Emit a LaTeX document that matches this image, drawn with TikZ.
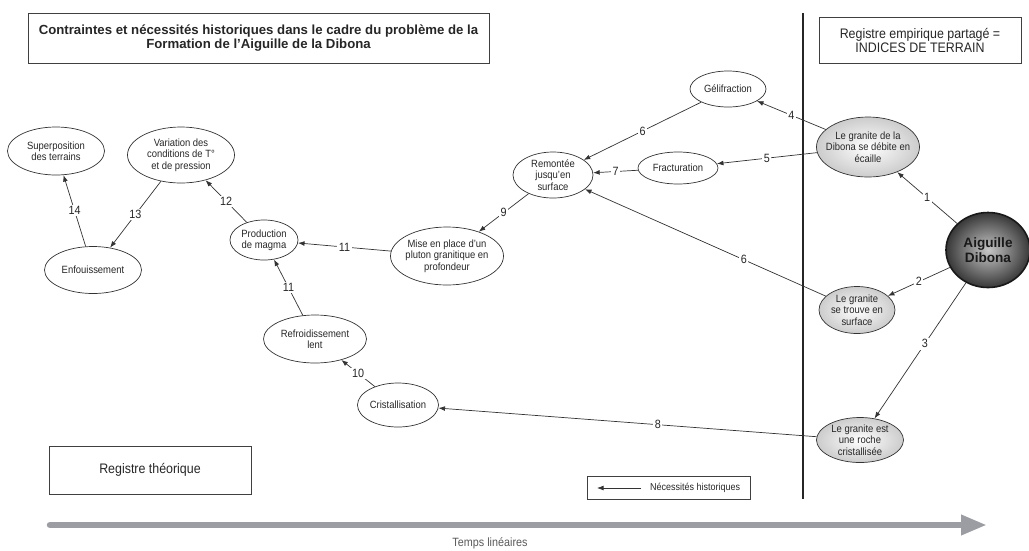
\documentclass[tikz,border=0pt]{standalone}
\usepackage{fontspec}
\setmainfont{Liberation Sans}
\newfontfamily\condfont[FakeStretch=0.9]{Liberation Sans}
\usetikzlibrary{shapes.geometric,arrows.meta}
\definecolor{timegray}{RGB}{155,157,162}
\begin{document}
\begin{tikzpicture}[x=1pt,y=-1pt,
  ell/.style={ellipse,draw=black!80,line width=0.7pt,inner sep=-6pt,align=center,
    font=\condfont\fontsize{10.5}{11.3}\selectfont,text=black!85},
  sh/.style={ell,shading=radial,inner color=white,outer color=black!20},
  arr/.style={draw=black!80,line width=0.7pt,-{Latex[length=6.5pt,width=4.8pt]}},
  num/.style={fill=white,inner sep=1.5pt,font=\condfont\fontsize{12}{12}\selectfont,text=black!85},
  box/.style={draw=black!75,line width=0.7pt,inner sep=0pt,align=center,text=black!85}]
\useasboundingbox (0,0) rectangle (1029,550);

% boxes
\node[box,minimum width=461pt,minimum height=50pt,font=\bfseries\fontsize{13.2}{14}\selectfont] (title) at (258.5,38.5)
  {Contraintes et nécessités historiques dans le cadre du problème de la\\Formation de l’Aiguille de la Dibona};
\node[box,minimum width=202pt,minimum height=46pt,font=\condfont\fontsize{13.8}{14}\selectfont] (emp) at (920,40)
  {Registre empirique partagé =\\INDICES DE TERRAIN};
\node[box,minimum width=202pt,minimum height=48pt,font=\condfont\fontsize{13.8}{14}\selectfont] (theo) at (150,470)
  {Registre théorique};
\node[box,minimum width=163pt,minimum height=23pt] (leg) at (668.5,487.5) {};
\node[anchor=west,inner sep=0pt,font=\condfont\fontsize{10}{10}\selectfont,text=black!85] (legtxt) at (650,487.5) {Nécessités historiques};
\coordinate (legA) at (641,488);
\coordinate (legB) at (597,488);
\draw[arr] (legA) -- (legB);

% separator
\coordinate (vt) at (803,13);
\coordinate (vb) at (803,499);
\draw[line width=1.4pt,black!85] (vt) -- (vb);

% time arrow
\coordinate (ta) at (50,525);
\coordinate (tb) at (987,525);
\draw[timegray,line width=6.5pt,line cap=round,-{Triangle[length=26pt,width=19pt]}] (ta) -- (tb);
\node[font=\condfont\fontsize{12}{12}\selectfont,text=black!65] (temps) at (490,543) {Temps linéaires};

% ellipses
\node[ell,minimum width=97pt,minimum height=48pt] (sup) at (56,151) {Superposition\\des terrains};
\node[ell,minimum width=107pt,minimum height=56pt] (var) at (181,155) {Variation des\\conditions de T°\\et de pression};
\node[ell,minimum width=97pt,minimum height=47pt] (enf) at (93,270) {Enfouissement};
\node[ell,minimum width=68pt,minimum height=40pt] (prod) at (264,240) {Production\\de magma};
\node[ell,minimum width=103pt,minimum height=48pt] (refr) at (315,339) {Refroidissement\\lent};
\node[ell,minimum width=81pt,minimum height=44pt] (cris) at (398,405) {Cristallisation};
\node[ell,minimum width=113pt,minimum height=58pt] (mise) at (447,256) {Mise en place d’un\\pluton granitique en\\profondeur};
\node[ell,minimum width=80pt,minimum height=46pt] (rem) at (553,175) {Remontée\\jusqu’en\\surface};
\node[ell,minimum width=80pt,minimum height=32pt] (frac) at (678,168) {Fracturation};
\node[ell,minimum width=76pt,minimum height=36pt] (gel) at (728,89) {Gélifraction};

\node[sh,minimum width=103pt,minimum height=60pt] (dib) at (868,147) {Le granite de la\\Dibona se débite en\\écaille};
\node[sh,minimum width=76pt,minimum height=47pt] (surf) at (857,310) {Le granite\\se trouve en\\surface};
\node[sh,minimum width=87pt,minimum height=45pt] (roche) at (860,440) {Le granite est\\une roche\\cristallisée};
\node[ell,line width=1.6pt,draw=black!90,shading=radial,inner color=black!22,outer color=black!78,
  minimum width=84pt,minimum height=75pt,font=\bfseries\fontsize{13.6}{15}\selectfont,text=black!90] (aig) at (988,250) {Aiguille\\Dibona};

% connectors
\draw[arr] (aig) -- node[num]{1} (dib);
\draw[arr] (aig) -- node[num]{2} (surf);
\draw[arr] (aig) -- node[num,pos=0.45]{3} (roche);
\draw[arr] (dib) -- node[num]{4} (gel);
\draw[arr] (dib) -- node[num]{5} (frac);
\draw[arr] (gel) -- node[num]{6} (rem);
\draw[arr] (frac) -- node[num]{7} (rem);
\draw[arr] (surf) -- node[num,pos=0.34]{6} (rem);
\draw[arr] (roche) -- node[num,pos=0.42]{8} (cris);
\draw[arr] (rem) -- node[num]{9} (mise);
\draw[arr] (mise) -- node[num]{11} (prod);
\draw[arr] (refr) -- node[num]{11} (prod);
\draw[arr] (cris) -- node[num]{10} (refr);
\draw[arr] (prod) -- node[num]{12} (var);
\draw[arr] (var) -- node[num]{13} (enf);
\draw[arr] (enf) -- node[num]{14} (sup);
\end{tikzpicture}
\end{document}
